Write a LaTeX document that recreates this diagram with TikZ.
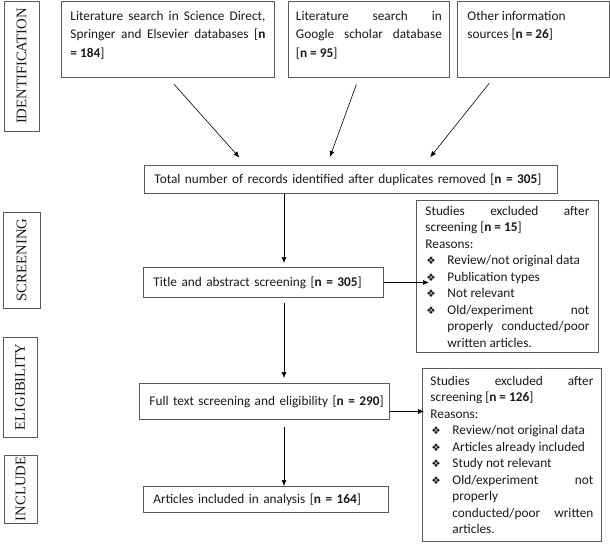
\documentclass[tikz,border=0pt]{standalone}
\usepackage{fontspec}
\setmainfont{Carlito}
\newfontfamily\serifside{Liberation Serif}
\newfontfamily\dejavu{DejaVu Sans}
\usetikzlibrary{arrows.meta,calc}
\definecolor{bord}{HTML}{5A5A5A}
\definecolor{ink}{HTML}{1A1A1A}
\newcommand\dia{{\dejavu\fontsize{10.5}{10.5}\selectfont ❖}}
\newcommand\bul[1]{\par\hangindent=22pt\hangafter=1\noindent\makebox[22pt][l]{\hspace{1pt}\dia}#1}
\tikzset{
  sbox/.style={draw=bord, line width=0.9pt, inner ysep=0pt, anchor=north west, align=left, text=ink,
    font=\fontsize{13.3}{16.5}\selectfont},
  pbox/.style={draw=bord, line width=0.9pt, inner sep=0pt, anchor=north west, text=ink,
    font=\fontsize{13.3}{18.5}\selectfont},
  side/.style={draw=bord, line width=0.9pt, inner sep=0pt, rotate=90, text=ink,
    font=\serifside\fontsize{14.7}{14.7}\selectfont},
  arr/.style={-{Latex[length=6pt,width=5pt]}, line width=0.6pt, black}
}
\begin{document}
\begin{tikzpicture}[x=1pt,y=-1pt]
\useasboundingbox (0,0) rectangle (610,546);
\fill[white] (0,0) rectangle (610,546);

% side labels
\node[side, minimum width=130pt, minimum height=35pt] (lid) at (21.5,66) {IDENTIFICATION};
\node[side, minimum width=96pt, minimum height=37pt] (lsc) at (21.5,260) {SCREENING};
\node[side, minimum width=100pt, minimum height=34pt] (lel) at (20,387) {ELIGIBILITY};
\node[side, minimum width=68pt, minimum height=33pt] (lin) at (20.5,489) {INCLUDE};

% top sources
\node[pbox, minimum width=213pt, minimum height=76pt] (s1) at (61,0.5)
  {\parbox[c][56pt][t]{195pt}{Literature\hfill search\hfill in\hfill Science\hfill Direct,\\
   Springer\hfill and\hfill Elsevier\hfill databases\hfill [\textbf{n}\\{}%
   \textbf{= 184}]}};
\node[pbox, minimum width=161pt, minimum height=76pt] (s2) at (288,0.5)
  {\parbox[c][56pt][t]{146pt}{Literature\hfill search\hfill in\\
   Google\hfill scholar\hfill database\\{}%
   [\textbf{n = 95}]}};
\node[pbox, minimum width=152pt, minimum height=76pt] (s3) at (457,0.5)
  {\parbox[c][56pt][t]{132pt}{Other information\\
   sources [\textbf{n = 26}]}};

% main flow
\node[sbox, minimum height=28pt, text width=393pt, inner xsep=10pt] (tot) at (144,165)
  {\mbox{Total number of records identified after duplicates removed [\textbf{n = 305}]}};
\node[sbox, minimum height=30pt, text width=220pt, inner xsep=10pt] (tas) at (143,267)
  {\mbox{Title and abstract screening [\textbf{n = 305}]}};
\node[sbox, minimum height=36pt, text width=230pt, inner xsep=10pt] (fts) at (139,383)
  {\mbox{Full text screening and eligibility [\textbf{n = 290}]}};
\node[sbox, minimum height=26pt, text width=225pt, inner xsep=10pt] (art) at (143,486)
  {\mbox{Articles included in analysis [\textbf{n = 164}]}};

% exclusion boxes
\node[pbox, minimum width=182pt, minimum height=152pt, font=\fontsize{13.3}{16.5}\selectfont] (ex1) at (416,200)
  {\parbox{164pt}{Studies\hfill excluded\hfill after\\
   screening [\textbf{n = 15}]\\
   Reasons:\par
   \bul{Review/not original data}
   \bul{Publication types}
   \bul{Not relevant}
   \bul{Old/experiment\hfill not\\ properly\hfill conducted/poor\\ written articles.}}};
\node[pbox, minimum width=179pt, minimum height=173pt, font=\fontsize{13.3}{16.5}\selectfont] (ex2) at (422,368)
  {\parbox{163pt}{Studies\hfill excluded\hfill after\\
   screening [\textbf{n = 126}]\\
   Reasons:\par
   \bul{Review/not original data}
   \bul{Articles already included}
   \bul{Study not relevant}
   \bul{Old/experiment\hfill not\\ properly\\ conducted/poor\hfill written\\ articles.}}};

% connectors
\coordinate (spine) at (284,0);
\draw[arr, shorten <=9pt, shorten >=10pt] (s1.south) -- ([xshift=102pt]tot.north west);
\draw[arr, shorten <=7.4pt, shorten >=8.5pt] ([xshift=-10pt]s2.south) -- ([xshift=183pt]tot.north west);
\draw[arr, shorten <=7.7pt, shorten >=10pt] ([xshift=-39.5pt]s3.south) -- ([xshift=280pt]tot.north west);
\draw[arr, shorten >=4pt] (tot.south -| spine) -- (tas.north -| spine);
\draw[arr, shorten <=5pt, shorten >=5pt] (tas.south -| spine) -- (fts.north -| spine);
\draw[arr, shorten <=7pt] (fts.south -| spine) -- (art.north -| spine);
\draw[arr] (tas.east) -- ([xshift=13pt]tas.east -| ex1.west);
\draw[arr] ([yshift=-10pt]fts.east) -- ([yshift=-10pt,xshift=2pt]fts.east -| ex2.west);
\end{tikzpicture}
\end{document}
